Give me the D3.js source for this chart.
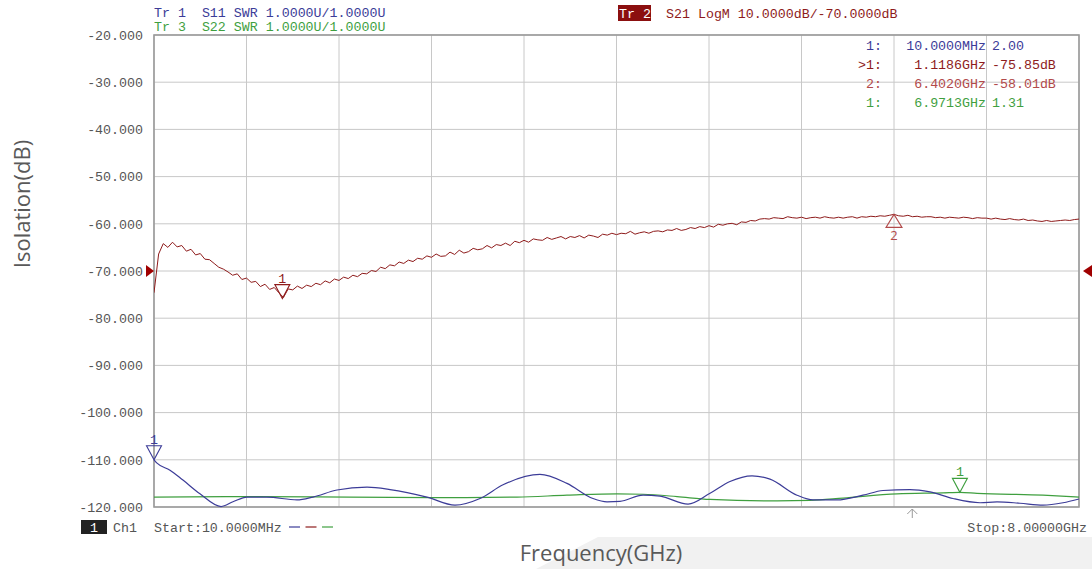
<!DOCTYPE html>
<html>
<head>
<meta charset="utf-8">
<script src="https://cdn.jsdelivr.net/npm/d3@7"></script>
<style>
  html, body { margin: 0; padding: 0; background: #fff; }
  svg { display: block; }
  .mono { font-family: 'Liberation Mono', 'DejaVu Sans Mono', monospace; font-size: 13.3px; }
  .title { font-family: 'Open Sans', 'Noto Sans', sans-serif; font-size: 22px; fill: #595959; }
</style>
</head>
<body>
<div id="chart"></div>
<script>
(function() {

  // sweep (GHz) and axis ticks
  var sweepStart = 0.01;
  var sweepStop = 8;
  var yTicks = [-20, -30, -40, -50, -60, -70, -80, -90, -100, -110, -120];

  // S21 LogM trace, 201 sweep points (dB)
  var s21Db = [
    -74.6, -66.4, -64.2, -65.0, -63.9, -64.9, -64.6, -65.8, -65.4, -66.6,
    -66.3, -67.5, -67.6, -68.4, -69.2, -69.6, -70.2, -70.9, -70.6, -71.8,
    -71.5, -72.4, -72.2, -73.3, -72.8, -73.9, -73.5, -74.6, -75.6, -73.8,
    -74.0, -73.2, -73.7, -73.0, -73.3, -72.6, -72.9, -72.1, -72.5, -71.7,
    -72.0, -71.3, -71.6, -70.9, -71.2, -70.5, -70.6, -69.9, -70.1, -69.2,
    -69.5, -68.7, -68.9, -68.1, -68.4, -67.7, -68.0, -67.3, -67.5, -66.8,
    -67.1, -66.4, -66.9, -66.8, -66.0, -66.5, -65.6, -66.2, -65.9, -65.2,
    -65.5, -65.3, -64.6, -65.1, -64.4, -64.6, -64.1, -64.6, -63.7, -64.0,
    -63.5, -63.9, -63.2, -63.4, -63.5, -62.9, -63.3, -63.0, -62.7, -63.2,
    -62.7, -62.9, -62.5, -63.0, -62.4, -62.6, -62.9, -62.2, -62.4, -62.0,
    -62.3, -62.0, -62.1, -61.6, -62.2, -61.9, -61.7, -62.0, -61.6, -61.5,
    -61.7, -61.3, -61.4, -61.0, -61.4, -61.2, -60.8, -61.0, -60.6, -60.8,
    -60.4, -60.7, -60.1, -60.3, -60.0, -59.9, -60.2, -59.6, -59.7, -59.3,
    -59.4, -59.0, -58.9, -59.0, -58.7, -58.8, -58.9, -58.5, -58.7, -58.8,
    -58.6, -58.9, -58.7, -58.6, -58.8, -58.5, -58.7, -58.8, -58.6, -58.8,
    -58.6, -58.5, -58.8, -58.5, -58.6, -58.4, -58.5, -58.3, -58.4, -58.2,
    -58.0, -58.3, -58.4, -58.2, -58.5, -58.4, -58.6, -58.5, -58.5, -58.7,
    -58.6, -58.8, -58.6, -58.7, -58.8, -58.6, -58.7, -58.9, -58.7, -58.8,
    -58.8, -59.0, -58.8, -59.0, -59.1, -58.9, -59.1, -59.2, -59.0, -59.3,
    -59.2, -59.4, -59.5, -59.3, -59.5, -59.4, -59.3, -59.2, -59.3, -59.1,
    -59.0
  ];

  // S11 SWR trace
  var s11Freq = [0.01, 0.036, 0.148, 0.260, 0.407, 0.589, 0.692, 0.813, 0.986, 1.245,
                 1.383, 1.591, 1.850, 2.049, 2.368, 2.610, 2.826, 3.025, 3.344, 3.577,
                 3.802, 3.923, 4.035, 4.234, 4.381, 4.623, 4.813, 4.985, 5.176, 5.331,
                 5.564, 5.702, 5.910, 6.134, 6.307, 6.540, 6.713, 6.912, 7.145, 7.292,
                 7.490, 7.689, 7.862, 8.00];
  var s11Swr = [2.00, 1.93, 1.78, 1.57, 1.28, 1.01, 1.11, 1.21, 1.21, 1.15,
                1.21, 1.36, 1.42, 1.37, 1.21, 1.04, 1.18, 1.47, 1.69, 1.50,
                1.18, 1.11, 1.12, 1.25, 1.23, 1.06, 1.29, 1.54, 1.66, 1.59,
                1.25, 1.15, 1.15, 1.25, 1.35, 1.37, 1.32, 1.18, 1.09, 1.11,
                1.08, 1.04, 1.09, 1.17];

  // S22 SWR trace
  var s22Freq = [0.01, 0.813, 1.703, 2.567, 3.146, 3.577, 4.009, 4.234, 4.528, 4.813,
                 5.392, 5.677, 5.962, 6.428, 6.826, 6.9713, 7.119, 7.689, 8.00];
  var s22Swr = [1.21, 1.22, 1.21, 1.20, 1.21, 1.25, 1.28, 1.27, 1.22, 1.16,
                1.13, 1.14, 1.19, 1.28, 1.30, 1.31, 1.29, 1.25, 1.21];

  // markers
  var s21MarkFreq = [1.1186, 6.402];
  var s21MarkVal = [-75.85, -58.01];
  var s21MarkName = ['1', '2'];
  var s11MarkFreq = 0.01, s11MarkVal = 2.00;
  var s22MarkFreq = 6.9713, s22MarkVal = 1.31;
  var cursorFreq = 6.56;
  var refLevel = -70;

  // marker readout table
  var rowIds = ['1:', '>1:', '2:', '1:'];
  var rowFreqs = ['10.0000MHz', '1.1186GHz', '6.4020GHz', '6.9713GHz'];
  var rowVals = ['2.00', '-75.85dB', '-58.01dB', '1.31'];

  var blue = '#3c3c98';
  var red = '#8e1b1b';
  var lightRed = '#b24a4a';
  var green = '#3f9f3f';

  var width = 1092, height = 569;
  var left = 154, right = 1079, top = 35, bottom = 507;

  var svg = d3.select('#chart')
    .append('svg')
    .attr('width', width)
    .attr('height', height);

  // faint grey band behind the x title
  svg.append('path')
    .attr('d', 'M598,537 L1092,537 L1092,569 L536,569 Z')
    .attr('fill', '#f1f1f1');

  var xScale = d3.scaleLinear().domain([sweepStart, sweepStop]).range([left, right]);
  var yScale = d3.scaleLinear().domain([-120, -20]).range([bottom, top]);
  var swrScale = d3.scaleLinear().domain([1, 11]).range([bottom, top]);

  var xDivs = d3.range(11).map(function(i) { return sweepStart + i * (sweepStop - sweepStart) / 10; });

  // grid
  svg.append('g').selectAll('line')
    .data(yTicks)
    .enter().append('line')
    .attr('x1', left).attr('x2', right)
    .attr('y1', function(d) { return yScale(d); })
    .attr('y2', function(d) { return yScale(d); })
    .attr('stroke', '#c8c8c8').attr('stroke-width', 1);

  svg.append('g').selectAll('line')
    .data(xDivs)
    .enter().append('line')
    .attr('y1', top).attr('y2', bottom)
    .attr('x1', function(d) { return xScale(d); })
    .attr('x2', function(d) { return xScale(d); })
    .attr('stroke', '#c8c8c8').attr('stroke-width', 1);

  svg.append('rect')
    .attr('x', left).attr('y', top)
    .attr('width', right - left).attr('height', bottom - top)
    .attr('fill', 'none').attr('stroke', '#9a9a9a').attr('stroke-width', 1.6);

  // y axis labels
  var yAxis = d3.axisLeft(yScale)
    .tickValues(yTicks)
    .tickSize(0)
    .tickPadding(0)
    .tickFormat(function(d) { return d.toFixed(3); });

  var gy = svg.append('g')
    .attr('transform', 'translate(143, 0)')
    .call(yAxis);
  gy.select('.domain').remove();
  gy.selectAll('.tick>text')
    .attr('class', 'mono')
    .style('font-size', '13.3px')
    .attr('fill', '#555');

  // clip traces to the plot
  svg.append('clipPath').attr('id', 'plot')
    .append('rect').attr('x', left).attr('y', top - 2)
    .attr('width', right - left + 1).attr('height', bottom - top + 4);

  var traces = svg.append('g').attr('clip-path', 'url(#plot)');

  var s22Line = d3.line()
    .x(function(d, i) { return xScale(s22Freq[i]); })
    .y(function(d) { return swrScale(d); })
    .curve(d3.curveMonotoneX);
  traces.append('path')
    .attr('d', s22Line(s22Swr))
    .attr('fill', 'none').attr('stroke', green).attr('stroke-width', 1.2);

  var s11Line = d3.line()
    .x(function(d, i) { return xScale(s11Freq[i]); })
    .y(function(d) { return swrScale(d); })
    .curve(d3.curveMonotoneX);
  traces.append('path')
    .attr('d', s11Line(s11Swr))
    .attr('fill', 'none').attr('stroke', blue).attr('stroke-width', 1.2);

  var s21Line = d3.line()
    .x(function(d, i) { return xScale(sweepStart + i * (sweepStop - sweepStart) / (s21Db.length - 1)); })
    .y(function(d) { return yScale(d); });
  traces.append('path')
    .attr('d', s21Line(s21Db))
    .attr('fill', 'none').attr('stroke', red).attr('stroke-width', 1);

  // marker triangles
  function markDown(x, y, color, label) {
    svg.append('path')
      .attr('d', 'M' + x + ',' + y + ' L' + (x - 7.5) + ',' + (y - 14) + ' L' + (x + 7.5) + ',' + (y - 14) + ' Z')
      .attr('fill', 'none').attr('stroke', color).attr('stroke-width', 1.1);
    svg.append('text')
      .attr('class', 'mono')
      .attr('x', x).attr('y', y - 16)
      .attr('text-anchor', 'middle')
      .attr('fill', color)
      .text(label);
  }
  function markUp(x, y, color, label) {
    svg.append('path')
      .attr('d', 'M' + x + ',' + y + ' L' + (x - 8) + ',' + (y + 13) + ' L' + (x + 8) + ',' + (y + 13) + ' Z')
      .attr('fill', 'none').attr('stroke', color).attr('stroke-width', 1.1);
    svg.append('text')
      .attr('x', x).attr('y', y + 26)
      .attr('text-anchor', 'middle')
      .attr('fill', color)
      .style('font-family', 'Open Sans, sans-serif')
      .style('font-size', '13px')
      .text(label);
  }

  markDown(xScale(s11MarkFreq), swrScale(s11MarkVal), blue, '1');
  markDown(xScale(s21MarkFreq[0]), yScale(s21MarkVal[0]), red, s21MarkName[0]);
  markUp(xScale(s21MarkFreq[1]), yScale(s21MarkVal[1]), lightRed, s21MarkName[1]);
  markDown(xScale(s22MarkFreq), swrScale(s22MarkVal), green, '1');

  // reference level arrows
  var ry = yScale(refLevel);
  svg.append('path')
    .attr('d', 'M146,' + (ry - 6) + ' L154,' + ry + ' L146,' + (ry + 6) + ' Z')
    .attr('fill', '#a00000');
  svg.append('path')
    .attr('d', 'M1092,' + (ry - 6) + ' L1083,' + ry + ' L1092,' + (ry + 6) + ' Z')
    .attr('fill', '#a00000');

  // cursor arrow under the axis
  var cx = xScale(cursorFreq);
  svg.append('path')
    .attr('d', 'M' + (cx - 5) + ',514 L' + cx + ',509 L' + (cx + 5) + ',514 M' + cx + ',509 L' + cx + ',518')
    .attr('fill', 'none').attr('stroke', '#999').attr('stroke-width', 1);

  // header
  svg.append('text').attr('class', 'mono').attr('x', 154).attr('y', 17)
    .attr('fill', blue).attr('xml:space', 'preserve')
    .text('Tr 1  S11 SWR 1.0000U/1.0000U');
  svg.append('text').attr('class', 'mono').attr('x', 154).attr('y', 31)
    .attr('fill', green).attr('xml:space', 'preserve')
    .text('Tr 3  S22 SWR 1.0000U/1.0000U');
  svg.append('rect').attr('x', 618).attr('y', 5).attr('width', 33).attr('height', 16)
    .attr('fill', '#8b0f0f');
  svg.append('text').attr('class', 'mono').attr('x', 619).attr('y', 18)
    .attr('fill', '#fff').text('Tr 2');
  svg.append('text').attr('class', 'mono').attr('x', 666).attr('y', 18)
    .attr('fill', red).text('S21 LogM 10.0000dB/-70.0000dB');

  // marker readout
  var rowColors = [blue, red, lightRed, green];
  var rowY = [50, 69, 88, 107];
  rowIds.forEach(function(id, i) {
    svg.append('text').attr('class', 'mono').attr('x', 882).attr('y', rowY[i])
      .attr('text-anchor', 'end').attr('fill', rowColors[i]).text(id);
    svg.append('text').attr('class', 'mono').attr('x', 986).attr('y', rowY[i])
      .attr('text-anchor', 'end').attr('fill', rowColors[i]).text(rowFreqs[i]);
    svg.append('text').attr('class', 'mono').attr('x', 992).attr('y', rowY[i])
      .attr('fill', rowColors[i]).text(rowVals[i]);
  });

  // footer
  svg.append('rect').attr('x', 81).attr('y', 520).attr('width', 26).attr('height', 14)
    .attr('fill', '#222');
  svg.append('text').attr('class', 'mono').attr('x', 94).attr('y', 532)
    .attr('text-anchor', 'middle').attr('fill', '#fff').text('1');
  svg.append('text').attr('class', 'mono').attr('x', 113).attr('y', 532)
    .attr('fill', '#555').text('Ch1');
  svg.append('text').attr('class', 'mono').attr('x', 154).attr('y', 532)
    .attr('fill', '#555').text('Start:10.0000MHz');
  svg.append('text').attr('class', 'mono').attr('x', 1087).attr('y', 532)
    .attr('text-anchor', 'end').attr('fill', '#555').text('Stop:8.00000GHz');

  var legendColors = [blue, red, green];
  legendColors.forEach(function(c, i) {
    svg.append('line')
      .attr('x1', 289 + i * 16.5).attr('x2', 300 + i * 16.5)
      .attr('y1', 527).attr('y2', 527)
      .attr('stroke', c).attr('stroke-width', 1.2);
  });

  // axis titles
  svg.append('text').attr('class', 'title')
    .attr('transform', 'translate(30, 204) rotate(-90)')
    .attr('text-anchor', 'middle')
    .text('Isolation(dB)');
  svg.append('text').attr('class', 'title')
    .attr('x', 601).attr('y', 561)
    .attr('text-anchor', 'middle')
    .text('Frequency(GHz)');

})()
</script>
</body>
</html>
